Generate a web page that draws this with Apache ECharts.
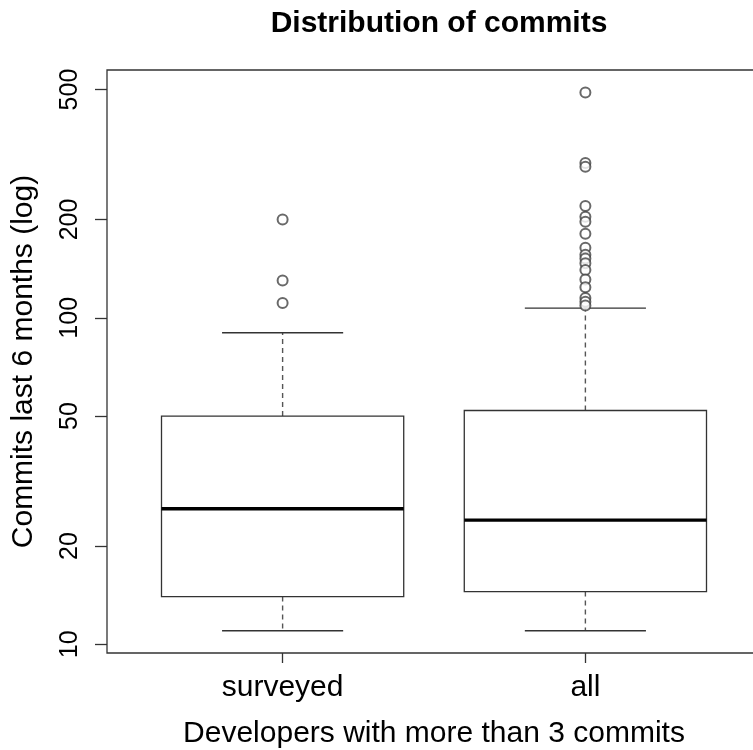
<!DOCTYPE html>
<html>
<head>
<meta charset="utf-8">
<script src="https://cdn.jsdelivr.net/npm/echarts@6/dist/echarts.min.js"></script>
<style>
  html, body { margin: 0; padding: 0; background: #fff; }
  #chart { width: 753px; height: 750px; }
</style>
</head>
<body>
<div id="chart"></div>
<script>
// Groups on the x axis
const groups = ['surveyed', 'all'];
// Five-number summaries per group: [lower whisker, Q1, median, Q3, upper whisker]
const surveyedStats = [11, 14, 26, 50, 90];
const allStats = [11, 14.5, 24, 52, 107];
// Points beyond the whiskers
const surveyedOutliers = [200, 130, 111];
const allOutliers = [490, 298, 290, 220, 204, 197, 181, 164, 156, 152, 147, 140, 131, 124, 115, 112, 109];
// Y-axis tick values (log scale)
const yTicks = [10, 20, 50, 100, 200, 500];

const FONT = 'Liberation Sans, Arial, Helvetica, sans-serif';
const INK = '#333';

const boxData = [
  [1].concat(surveyedStats),
  [2].concat(allStats)
];
const outlierData = []
  .concat(surveyedOutliers.map(v => [1, v]))
  .concat(allOutliers.map(v => [2, v]));

function renderBox(params, api) {
  const x = api.value(0);
  const lo = api.value(1), q1 = api.value(2), med = api.value(3), q3 = api.value(4), hi = api.value(5);
  const halfBox = 0.4, halfStaple = 0.2;
  const pL = api.coord([x - halfBox, q1]);
  const pR = api.coord([x + halfBox, q3]);
  const c = api.coord([x, med]);
  const pLo = api.coord([x, lo]);
  const pHi = api.coord([x, hi]);
  const pQ1 = api.coord([x, q1]);
  const pQ3 = api.coord([x, q3]);
  const sL = api.coord([x - halfStaple, lo])[0];
  const sR = api.coord([x + halfStaple, lo])[0];
  const thin = { stroke: INK, lineWidth: 1.3 };
  const dashed = { stroke: '#555', lineWidth: 1.4, lineDash: [5, 4] };
  return {
    type: 'group',
    children: [
      // dashed whiskers
      { type: 'line', shape: { x1: c[0], y1: pQ3[1], x2: c[0], y2: pHi[1] }, style: dashed },
      { type: 'line', shape: { x1: c[0], y1: pQ1[1], x2: c[0], y2: pLo[1] }, style: dashed },
      // staples
      { type: 'line', shape: { x1: sL, y1: pHi[1], x2: sR, y2: pHi[1] }, style: thin },
      { type: 'line', shape: { x1: sL, y1: pLo[1], x2: sR, y2: pLo[1] }, style: thin },
      // box
      { type: 'rect', shape: { x: pL[0], y: pR[1], width: pR[0] - pL[0], height: pL[1] - pR[1] },
        style: { fill: '#fff', stroke: INK, lineWidth: 1.3 } },
      // median
      { type: 'line', shape: { x1: pL[0], y1: c[1], x2: pR[0], y2: c[1] },
        style: { stroke: '#000', lineWidth: 3.4 } }
    ]
  };
}

const chart = echarts.init(document.getElementById('chart'), null, { renderer: 'canvas' });
chart.setOption({
  animation: false,
  backgroundColor: '#fff',
  title: {
    text: 'Distribution of commits',
    left: 434, top: 4, textAlign: 'center',
    textStyle: { fontFamily: FONT, fontSize: 30, fontWeight: 'bold', color: '#000' }
  },
  grid: {
    left: 107, top: 70, right: -8, bottom: 97,
    outerBoundsMode: 'none',
    show: true, borderColor: INK, borderWidth: 1.3, backgroundColor: 'transparent'
  },
  xAxis: {
    type: 'value', min: 0.42, max: 2.58,
    name: 'Developers with more than 3 commits',
    nameLocation: 'middle', nameGap: 66,
    nameTextStyle: { fontFamily: FONT, fontSize: 30, color: '#000' },
    axisLine: { show: false },
    splitLine: { show: false },
    axisTick: { show: true, length: 10, lineStyle: { color: INK, width: 1.3 }, customValues: [1, 2] },
    axisLabel: {
      customValues: [1, 2], margin: 20,
      fontFamily: FONT, fontSize: 30, color: '#000',
      formatter: v => groups[Math.round(v) - 1]
    }
  },
  yAxis: {
    type: 'log', logBase: 10, min: 9.404, max: 574,
    name: 'Commits last 6 months (log)',
    nameLocation: 'middle', nameGap: 68, nameRotate: 90,
    nameTextStyle: { fontFamily: FONT, fontSize: 30, color: '#000' },
    axisLine: { show: false },
    splitLine: { show: false },
    minorTick: { show: false },
    axisTick: { show: true, length: 12, lineStyle: { color: INK, width: 1.3 }, customValues: yTicks },
    axisLabel: {
      customValues: yTicks, rotate: 90, margin: 24,
      fontFamily: FONT, fontSize: 25, color: '#000'
    }
  },
  series: [
    {
      type: 'custom',
      renderItem: renderBox,
      data: boxData,
      encode: { x: 0, y: [1, 2, 3, 4, 5] },
      clip: false,
      z: 2
    },
    {
      type: 'scatter',
      data: outlierData,
      symbol: 'emptyCircle',
      symbolSize: 10,
      itemStyle: { color: '#444', borderColor: '#444', borderWidth: 1 },
      z: 3
    }
  ]
});
</script>
</body>
</html>
